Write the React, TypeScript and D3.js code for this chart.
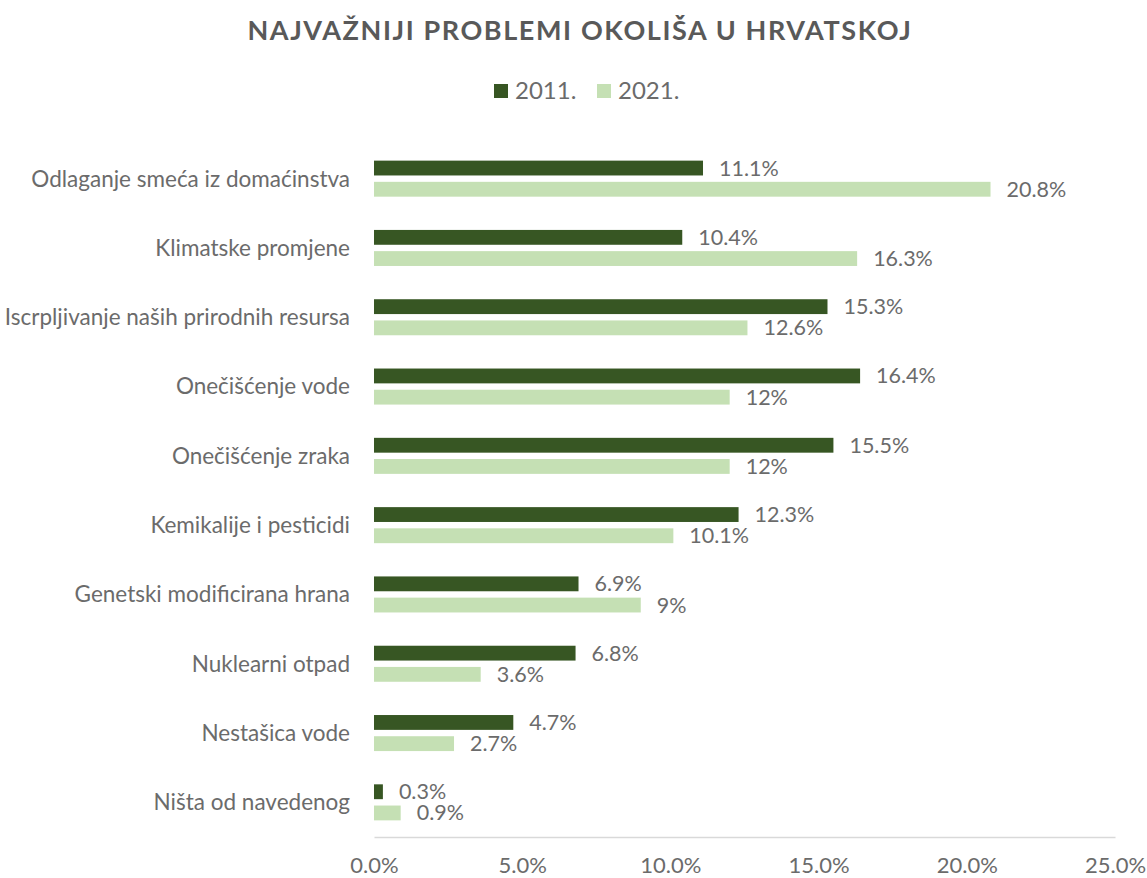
import React, { useEffect, useRef } from "react";
import * as d3 from "d3";

const categories = [
  "Odlaganje smeća iz domaćinstva",
  "Klimatske promjene",
  "Iscrpljivanje naših prirodnih resursa",
  "Onečišćenje vode",
  "Onečišćenje zraka",
  "Kemikalije i pesticidi",
  "Genetski modificirana hrana",
  "Nuklearni otpad",
  "Nestašica vode",
  "Ništa od navedenog",
];
const values2011 = [11.1, 10.4, 15.3, 16.4, 15.5, 12.3, 6.9, 6.8, 4.7, 0.3];
const values2021 = [20.8, 16.3, 12.6, 12, 12, 10.1, 9, 3.6, 2.7, 0.9];
const seriesNames = ["2011.", "2021."];
const seriesColors = ["#375623", "#C5E0B4"];
const xTicks = [0, 5, 10, 15, 20, 25];

const FONT = "Lato, 'Open Sans', sans-serif";
const TITLE_COLOR = "#595959";
const TEXT = "#6b6b6b";

export default function App() {
  const ref = useRef<SVGSVGElement>(null);

  useEffect(() => {
    const width = 1147;
    const height = 878;
    const margin = { top: 144, right: 32, bottom: 41, left: 374 };
    const innerWidth = width - margin.left - margin.right;
    const innerHeight = height - margin.top - margin.bottom;

    const svg = d3.select(ref.current);
    svg.selectAll("*").remove();
    svg.attr("width", width).attr("height", height);

    // title
    svg.append("text")
      .attr("x", 580)
      .attr("y", 40)
      .attr("text-anchor", "middle")
      .style("font-family", FONT)
      .style("font-weight", "bold")
      .style("font-size", "27px")
      .style("letter-spacing", "1.6px")
      .style("fill", TITLE_COLOR)
      .text("NAJVAŽNIJI PROBLEMI OKOLIŠA U HRVATSKOJ");

    // legend
    const legendItems = [
      { x: 494, name: seriesNames[0], color: seriesColors[0] },
      { x: 597, name: seriesNames[1], color: seriesColors[1] },
    ];
    legendItems.forEach((it) => {
      svg.append("rect")
        .attr("x", it.x).attr("y", 84).attr("width", 14).attr("height", 14)
        .attr("fill", it.color);
      svg.append("text")
        .attr("x", it.x + 21).attr("y", 91).attr("dy", "0.35em")
        .style("font-family", FONT).style("font-size", "24px").style("fill", TEXT)
        .text(it.name);
    });

    const g = svg.append("g").attr("transform", `translate(${margin.left},${margin.top})`);

    // scales
    const xScale = d3.scaleLinear().domain([0, 25]).range([0, innerWidth]);
    const yScale = d3.scaleBand().domain(categories).range([0, innerHeight]).paddingInner(0.48).paddingOuter(0.24);
    const ySub = d3.scaleBand().domain(["0", "1"]).range([0, yScale.bandwidth()]).paddingInner(0.3);

    const rows = categories.map((c, i) => ({ c, vals: [values2011[i], values2021[i]] }));

    const groups = g.selectAll("g.row").data(rows).join("g")
      .attr("class", "row")
      .attr("transform", (d) => `translate(0,${yScale(d.c)})`);

    groups.selectAll("rect").data((d) => d.vals).join("rect")
      .attr("x", 0)
      .attr("y", (_, i) => ySub(String(i))!)
      .attr("width", (v) => xScale(v))
      .attr("height", ySub.bandwidth())
      .attr("fill", (_, i) => seriesColors[i]);

    groups.selectAll("text.val").data((d) => d.vals).join("text")
      .attr("class", "val")
      .attr("x", (v) => xScale(v) + 16)
      .attr("y", (_, i) => ySub(String(i))! + ySub.bandwidth() / 2)
      .attr("dy", "0.35em")
      .style("font-family", FONT).style("font-size", "21.5px").style("fill", TEXT)
      .text((v) => `${v}%`);

    // category labels
    g.selectAll("text.cat").data(categories).join("text")
      .attr("class", "cat")
      .attr("x", -24)
      .attr("y", (d) => yScale(d)! + yScale.bandwidth() / 2)
      .attr("dy", "0.35em")
      .attr("text-anchor", "end")
      .style("font-family", FONT).style("font-size", "22.5px").style("fill", TEXT)
      .text((d) => d);

    // x axis
    const xAxis = g.append("g").attr("transform", `translate(0,${innerHeight})`)
      .call(d3.axisBottom(xScale).tickValues(xTicks).tickSize(0).tickPadding(20).tickFormat((d) => `${(+d).toFixed(1)}%`));
    xAxis.select(".domain").attr("stroke", "#d9d9d9").attr("stroke-width", 1.5);
    xAxis.selectAll("text")
      .style("font-family", FONT).style("font-size", "22px").style("fill", TEXT);
  }, []);

  return (
    <svg ref={ref} style={{ position: "absolute", left: 0, top: 0, background: "#fff" }} />
  );
}
